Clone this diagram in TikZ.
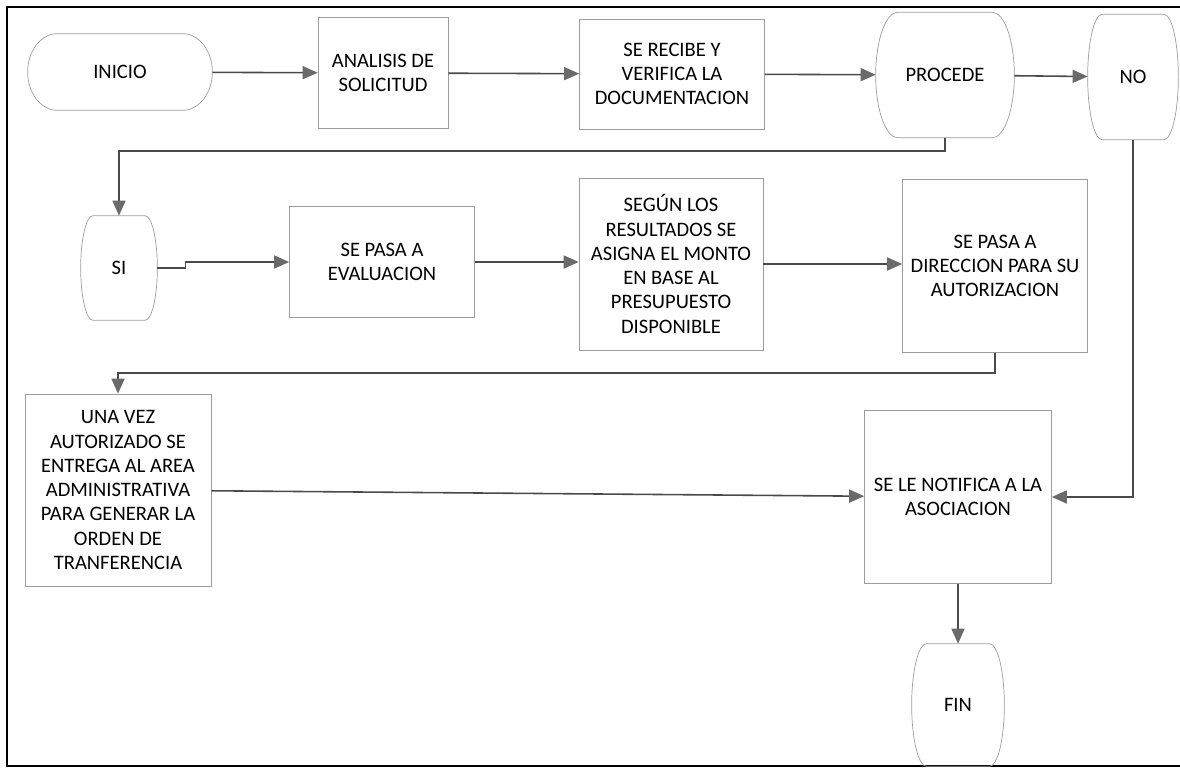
\documentclass[tikz,border=0pt]{standalone}
\usepackage{fontspec}
\setmainfont{Carlito}
\usetikzlibrary{arrows.meta,calc}
\definecolor{linegray}{HTML}{4A4A4A}
\definecolor{tipgray}{HTML}{6A6A6A}
\definecolor{boxgray}{HTML}{9C9C9C}
\tikzset{
	box/.style={draw=boxgray, line width=0.4pt, align=center, inner sep=0pt,
		font=\fontsize{11.7}{13.8}\selectfont},
	terminal/.style={align=center, inner sep=0pt,
		font=\fontsize{11.7}{13.8}\selectfont},
	outline/.style={draw=boxgray, line width=0.4pt},
	arrow/.style={-{Triangle[length=3mm, width=2.6mm, color=tipgray]},
		draw=linegray, line width=0.9pt},
	frameline/.style={draw=black, line width=1.1pt}
}
% outline of a terminal node: flat top and bottom, elliptic ends
\newcommand{\termoutline}[1]{%
	\draw[outline] let \p1=(#1.north west), \p2=(#1.south east),
	\n1={0.161*(\x2-\x1)}, \n2={0.5*(\y1-\y2)} in
	({\x1+\n1},\y1) -- ({\x2-\n1},\y1)
	arc[start angle=90, end angle=-90, x radius={\n1*1pt}, y radius={\n2*1pt}]
	-- ({\x1+\n1},\y2)
	arc[start angle=270, end angle=90, x radius={\n1*1pt}, y radius={\n2*1pt}]
	-- cycle;}

\begin{document}
\begin{tikzpicture}[x=0.02cm, y=-0.02cm]
	\useasboundingbox (0,0) rectangle (1180,773);
	
	%% -- Outer frame (open on the right)
	\draw[frameline] (1180,7) -- (7,7) -- (7,766) -- (1180,766);
	
	%% -- Row 1
	\node[terminal, minimum width=3.68cm, minimum height=1.52cm] (inicio) at (120,72) {INICIO};
	
	\node[box, minimum width=2.6cm, minimum height=2.22cm] (analisis) at (383,73)
	{ANALISIS DE\\SOLICITUD};
	
	\node[box, minimum width=3.7cm, minimum height=2.2cm] (recibe) at (672,74)
	{SE RECIBE Y\\VERIFICA LA\\DOCUMENTACION};
	
	\node[terminal, minimum width=2.76cm, minimum height=2.5cm] (procede) at (945,75) {PROCEDE};
	
	\node[terminal, minimum width=1.8cm, minimum height=2.5cm] (no) at (1133,77) {NO};
	
	%% -- Row 2
	\node[terminal, minimum width=1.52cm, minimum height=2.08cm] (si) at (119,268) {SI};
	
	\node[box, minimum width=3.7cm, minimum height=2.22cm] (evalua) at (382,262)
	{SE PASA A\\EVALUACION};
	
	\node[box, minimum width=3.68cm, minimum height=3.44cm] (segun) at (671,264)
	{SEGÚN LOS\\RESULTADOS SE\\ASIGNA EL MONTO\\EN BASE AL\\PRESUPUESTO\\DISPONIBLE};
	
	\node[box, minimum width=3.7cm, minimum height=3.46cm] (direccion) at (995,266)
	{SE PASA A\\DIRECCION PARA SU\\AUTORIZACION};
	
	%% -- Row 3
	\node[box, minimum width=3.72cm, minimum height=3.84cm] (unavez) at (118,490)
	{UNA VEZ\\AUTORIZADO SE\\ENTREGA AL AREA\\ADMINISTRATIVA\\PARA GENERAR LA\\ORDEN DE\\TRANFERENCIA};
	
	\node[box, minimum width=3.74cm, minimum height=3.46cm] (notifica) at (958,497)
	{SE LE NOTIFICA A LA\\ASOCIACION};
	
	\node[terminal, minimum width=1.84cm, minimum height=2.44cm] (fin) at (958,705) {FIN};
	
	%% -- Terminal outlines
	\foreach \t in {inicio,procede,no,si,fin}
	\termoutline{\t};
	
	%% -- Flow arrows
	\draw[arrow] (inicio) -- (analisis);
	\draw[arrow] (analisis) -- (recibe);
	\draw[arrow] (recibe) -- (procede);
	\draw[arrow] (procede) -- (no);
	
	\draw[arrow] (procede.south) -- ++(0,13) -| (si.north);
	\draw[arrow] (si.east) -- ++(28,0) |- (evalua.west);
	\draw[arrow] (evalua.east) -- (evalua.east -| segun.west);
	\draw[arrow] (segun.east) -- (segun.east -| direccion.west);
	
	\draw[arrow] (direccion.south) -- ++(0,20) -| (unavez.north);
	\draw[arrow] (unavez) -- (notifica);
	\draw[arrow] (no.south) |- (notifica.east);
	\draw[arrow] (notifica) -- (fin);
	
\end{tikzpicture}
\end{document}
